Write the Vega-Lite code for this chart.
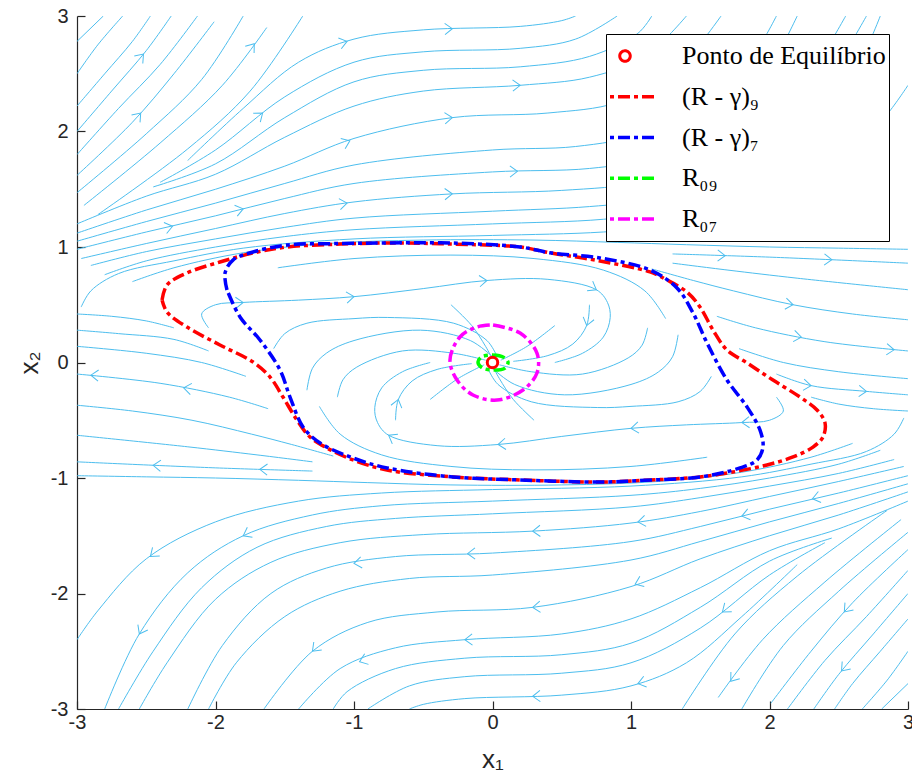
{
"$schema":"https://vega.github.io/schema/vega-lite/v6.json",
"width":831,"height":693,
"autosize":{"type":"none"},
"padding":{"left":77,"top":16,"right":4,"bottom":74},
"config":{"view":{"stroke":null},
"axis":{"grid":false,"domainColor":"#262626","tickColor":"#262626","labelColor":"#262626","titleColor":"#262626","labelFont":"Liberation Sans","labelFontSize":20,"titleFont":"Liberation Sans","titleFontSize":26,"titleFontWeight":"normal","domainWidth":1.2,"tickWidth":1.2}},
"datasets":{
"stream":[
{"s":"U1","x":-3,"y":2.78},{"s":"U1","x":-2.81,"y":3},
{"s":"U2","x":-3,"y":2.5},{"s":"U2","x":-2.85,"y":2.75},{"s":"U2","x":-2.67,"y":3},
{"s":"U3","x":-3,"y":2.22},{"s":"U3","x":-2.8,"y":2.5},{"s":"U3","x":-2.6,"y":2.78},{"s":"U3","x":-2.47,"y":3},
{"s":"U4","x":-3,"y":2.0},{"s":"U4","x":-2.75,"y":2.35},{"s":"U4","x":-2.5,"y":2.7},{"s":"U4","x":-2.32,"y":3},
{"s":"U5","x":-3,"y":1.8},{"s":"U5","x":-2.7,"y":2.2},{"s":"U5","x":-2.4,"y":2.58},{"s":"U5","x":-2.13,"y":3},
{"s":"U6","x":-3,"y":1.62},{"s":"U6","x":-2.6,"y":2.08},{"s":"U6","x":-2.3,"y":2.5},{"s":"U6","x":-2.01,"y":2.95},
{"s":"U7","x":-3,"y":1.47},{"s":"U7","x":-2.5,"y":1.98},{"s":"U7","x":-2.1,"y":2.45},{"s":"U7","x":-1.8,"y":3},
{"s":"U8","x":-2.95,"y":1.36},{"s":"U8","x":-2.4,"y":1.9},{"s":"U8","x":-1.95,"y":2.4},{"s":"U8","x":-1.63,"y":2.9},
{"s":"U9","x":-2.85,"y":1.28},{"s":"U9","x":-2.2,"y":1.85},{"s":"U9","x":-1.75,"y":2.35},{"s":"U9","x":-1.37,"y":3},
{"s":"mU1","x":3,"y":-2.78},{"s":"mU1","x":2.81,"y":-3},
{"s":"mU2","x":3,"y":-2.5},{"s":"mU2","x":2.85,"y":-2.75},{"s":"mU2","x":2.67,"y":-3},
{"s":"mU3","x":3,"y":-2.22},{"s":"mU3","x":2.8,"y":-2.5},{"s":"mU3","x":2.6,"y":-2.78},{"s":"mU3","x":2.47,"y":-3},
{"s":"mU4","x":3,"y":-2.0},{"s":"mU4","x":2.75,"y":-2.35},{"s":"mU4","x":2.5,"y":-2.7},{"s":"mU4","x":2.32,"y":-3},
{"s":"mU5","x":3,"y":-1.8},{"s":"mU5","x":2.7,"y":-2.2},{"s":"mU5","x":2.4,"y":-2.58},{"s":"mU5","x":2.13,"y":-3},
{"s":"mU6","x":3,"y":-1.62},{"s":"mU6","x":2.6,"y":-2.08},{"s":"mU6","x":2.3,"y":-2.5},{"s":"mU6","x":2.01,"y":-2.95},
{"s":"mU7","x":3,"y":-1.47},{"s":"mU7","x":2.5,"y":-1.98},{"s":"mU7","x":2.1,"y":-2.45},{"s":"mU7","x":1.8,"y":-3},
{"s":"mU8","x":2.95,"y":-1.36},{"s":"mU8","x":2.4,"y":-1.9},{"s":"mU8","x":1.95,"y":-2.4},{"s":"mU8","x":1.63,"y":-2.9},
{"s":"mU9","x":2.85,"y":-1.28},{"s":"mU9","x":2.2,"y":-1.85},{"s":"mU9","x":1.75,"y":-2.35},{"s":"mU9","x":1.37,"y":-3},
{"s":"T1","x":-2.6,"y":0.7},{"s":"T1","x":-2.3,"y":0.82},{"s":"T1","x":-1.8,"y":0.95},{"s":"T1","x":-1.2,"y":1.03},{"s":"T1","x":-0.5,"y":1.06},{"s":"T1","x":0.3,"y":1.06},{"s":"T1","x":0.9,"y":1.04},{"s":"T1","x":1.4,"y":1.02},{"s":"T1","x":2.0,"y":1.0},{"s":"T1","x":2.5,"y":0.99},{"s":"T1","x":3.0,"y":0.98},
{"s":"T2","x":-2.97,"y":0.48},{"s":"T2","x":-2.9,"y":0.62},{"s":"T2","x":-2.7,"y":0.77},{"s":"T2","x":-2.3,"y":0.88},{"s":"T2","x":-1.8,"y":0.99},{"s":"T2","x":-1.0,"y":1.07},{"s":"T2","x":0.0,"y":1.1},{"s":"T2","x":0.8,"y":1.13},{"s":"T2","x":1.4,"y":1.2},{"s":"T2","x":2.0,"y":1.38},{"s":"T2","x":2.5,"y":1.7},{"s":"T2","x":2.85,"y":2.15},{"s":"T2","x":3.0,"y":2.4},
{"s":"T3","x":-2.8,"y":0.76},{"s":"T3","x":-2.5,"y":0.88},{"s":"T3","x":-2.0,"y":1.0},{"s":"T3","x":-1.5,"y":1.09},{"s":"T3","x":-1.0,"y":1.15},{"s":"T3","x":0.0,"y":1.2},{"s":"T3","x":0.8,"y":1.24},{"s":"T3","x":1.3,"y":1.32},{"s":"T3","x":1.8,"y":1.5},{"s":"T3","x":2.2,"y":1.82},{"s":"T3","x":2.55,"y":2.35},{"s":"T3","x":2.8,"y":3.0},
{"s":"T4","x":-2.9,"y":0.84},{"s":"T4","x":-2.5,"y":0.96},{"s":"T4","x":-2.0,"y":1.07},{"s":"T4","x":-1.5,"y":1.17},{"s":"T4","x":-1.0,"y":1.25},{"s":"T4","x":0.0,"y":1.31},{"s":"T4","x":0.7,"y":1.35},{"s":"T4","x":1.2,"y":1.42},{"s":"T4","x":1.7,"y":1.6},{"s":"T4","x":2.1,"y":1.95},{"s":"T4","x":2.45,"y":2.5},{"s":"T4","x":2.7,"y":3.0},
{"s":"T5","x":-2.97,"y":0.9},{"s":"T5","x":-2.5,"y":1.03},{"s":"T5","x":-2.0,"y":1.16},{"s":"T5","x":-1.5,"y":1.29},{"s":"T5","x":-1.0,"y":1.39},{"s":"T5","x":-0.29,"y":1.46},{"s":"T5","x":0.5,"y":1.49},{"s":"T5","x":1.1,"y":1.56},{"s":"T5","x":1.6,"y":1.73},{"s":"T5","x":2.0,"y":2.05},{"s":"T5","x":2.35,"y":2.6},{"s":"T5","x":2.55,"y":3.0},
{"s":"T6","x":-3.0,"y":0.98},{"s":"T6","x":-2.5,"y":1.13},{"s":"T6","x":-2.0,"y":1.27},{"s":"T6","x":-1.5,"y":1.42},{"s":"T6","x":-1.0,"y":1.55},{"s":"T6","x":0.0,"y":1.65},{"s":"T6","x":0.7,"y":1.68},{"s":"T6","x":1.2,"y":1.78},{"s":"T6","x":1.6,"y":2.0},{"s":"T6","x":1.95,"y":2.45},{"s":"T6","x":2.2,"y":3.0},
{"s":"T7","x":-3.0,"y":1.05},{"s":"T7","x":-2.5,"y":1.22},{"s":"T7","x":-2.0,"y":1.38},{"s":"T7","x":-1.5,"y":1.55},{"s":"T7","x":-1.0,"y":1.71},{"s":"T7","x":0.0,"y":1.84},{"s":"T7","x":0.6,"y":1.87},{"s":"T7","x":1.1,"y":1.98},{"s":"T7","x":1.5,"y":2.2},{"s":"T7","x":1.85,"y":2.6},{"s":"T7","x":2.05,"y":3.0},
{"s":"T8","x":-3.0,"y":1.12},{"s":"T8","x":-2.5,"y":1.32},{"s":"T8","x":-2.0,"y":1.5},{"s":"T8","x":-1.5,"y":1.7},{"s":"T8","x":-1.0,"y":1.94},{"s":"T8","x":-0.29,"y":2.12},{"s":"T8","x":0.4,"y":2.16},{"s":"T8","x":0.9,"y":2.25},{"s":"T8","x":1.3,"y":2.5},{"s":"T8","x":1.65,"y":3.0},
{"s":"T9","x":-3.0,"y":1.2},{"s":"T9","x":-2.5,"y":1.44},{"s":"T9","x":-2.0,"y":1.63},{"s":"T9","x":-1.5,"y":1.95},{"s":"T9","x":-1.0,"y":2.22},{"s":"T9","x":-0.5,"y":2.35},{"s":"T9","x":0.2,"y":2.4},{"s":"T9","x":0.7,"y":2.47},{"s":"T9","x":1.1,"y":2.65},{"s":"T9","x":1.4,"y":3.0},
{"s":"T10","x":-2.45,"y":1.52},{"s":"T10","x":-2.0,"y":1.72},{"s":"T10","x":-1.5,"y":2.12},{"s":"T10","x":-1.0,"y":2.43},{"s":"T10","x":-0.5,"y":2.53},{"s":"T10","x":0.2,"y":2.56},{"s":"T10","x":0.7,"y":2.65},{"s":"T10","x":1.05,"y":2.85},{"s":"T10","x":1.15,"y":3.0},
{"s":"T11","x":-2.4,"y":1.56},{"s":"T11","x":-2.0,"y":1.84},{"s":"T11","x":-1.5,"y":2.3},{"s":"T11","x":-1.0,"y":2.6},{"s":"T11","x":-0.5,"y":2.69},{"s":"T11","x":0.2,"y":2.72},{"s":"T11","x":0.6,"y":2.8},{"s":"T11","x":0.9,"y":3.0},
{"s":"T12","x":-2.2,"y":1.75},{"s":"T12","x":-1.8,"y":2.2},{"s":"T12","x":-1.4,"y":2.6},{"s":"T12","x":-1.0,"y":2.8},{"s":"T12","x":-0.5,"y":2.88},{"s":"T12","x":0.2,"y":2.91},{"s":"T12","x":0.5,"y":2.96},{"s":"T12","x":0.6,"y":3.0},
{"s":"mT1","x":2.6,"y":-0.7},{"s":"mT1","x":2.3,"y":-0.82},{"s":"mT1","x":1.8,"y":-0.95},{"s":"mT1","x":1.2,"y":-1.03},{"s":"mT1","x":0.5,"y":-1.06},{"s":"mT1","x":-0.3,"y":-1.06},{"s":"mT1","x":-0.9,"y":-1.04},{"s":"mT1","x":-1.4,"y":-1.02},{"s":"mT1","x":-2.0,"y":-1.0},{"s":"mT1","x":-2.5,"y":-0.99},{"s":"mT1","x":-3.0,"y":-0.98},
{"s":"mT2","x":2.97,"y":-0.48},{"s":"mT2","x":2.9,"y":-0.62},{"s":"mT2","x":2.7,"y":-0.77},{"s":"mT2","x":2.3,"y":-0.88},{"s":"mT2","x":1.8,"y":-0.99},{"s":"mT2","x":1.0,"y":-1.07},{"s":"mT2","x":0.0,"y":-1.1},{"s":"mT2","x":-0.8,"y":-1.13},{"s":"mT2","x":-1.4,"y":-1.2},{"s":"mT2","x":-2.0,"y":-1.38},{"s":"mT2","x":-2.5,"y":-1.7},{"s":"mT2","x":-2.85,"y":-2.15},{"s":"mT2","x":-3.0,"y":-2.4},
{"s":"mT3","x":2.8,"y":-0.76},{"s":"mT3","x":2.5,"y":-0.88},{"s":"mT3","x":2.0,"y":-1.0},{"s":"mT3","x":1.5,"y":-1.09},{"s":"mT3","x":1.0,"y":-1.15},{"s":"mT3","x":0.0,"y":-1.2},{"s":"mT3","x":-0.8,"y":-1.24},{"s":"mT3","x":-1.3,"y":-1.32},{"s":"mT3","x":-1.8,"y":-1.5},{"s":"mT3","x":-2.2,"y":-1.82},{"s":"mT3","x":-2.55,"y":-2.35},{"s":"mT3","x":-2.8,"y":-3.0},
{"s":"mT4","x":2.9,"y":-0.84},{"s":"mT4","x":2.5,"y":-0.96},{"s":"mT4","x":2.0,"y":-1.07},{"s":"mT4","x":1.5,"y":-1.17},{"s":"mT4","x":1.0,"y":-1.25},{"s":"mT4","x":0.0,"y":-1.31},{"s":"mT4","x":-0.7,"y":-1.35},{"s":"mT4","x":-1.2,"y":-1.42},{"s":"mT4","x":-1.7,"y":-1.6},{"s":"mT4","x":-2.1,"y":-1.95},{"s":"mT4","x":-2.45,"y":-2.5},{"s":"mT4","x":-2.7,"y":-3.0},
{"s":"mT5","x":2.97,"y":-0.9},{"s":"mT5","x":2.5,"y":-1.03},{"s":"mT5","x":2.0,"y":-1.16},{"s":"mT5","x":1.5,"y":-1.29},{"s":"mT5","x":1.0,"y":-1.39},{"s":"mT5","x":0.29,"y":-1.46},{"s":"mT5","x":-0.5,"y":-1.49},{"s":"mT5","x":-1.1,"y":-1.56},{"s":"mT5","x":-1.6,"y":-1.73},{"s":"mT5","x":-2.0,"y":-2.05},{"s":"mT5","x":-2.35,"y":-2.6},{"s":"mT5","x":-2.55,"y":-3.0},
{"s":"mT6","x":3.0,"y":-0.98},{"s":"mT6","x":2.5,"y":-1.13},{"s":"mT6","x":2.0,"y":-1.27},{"s":"mT6","x":1.5,"y":-1.42},{"s":"mT6","x":1.0,"y":-1.55},{"s":"mT6","x":0.0,"y":-1.65},{"s":"mT6","x":-0.7,"y":-1.68},{"s":"mT6","x":-1.2,"y":-1.78},{"s":"mT6","x":-1.6,"y":-2.0},{"s":"mT6","x":-1.95,"y":-2.45},{"s":"mT6","x":-2.2,"y":-3.0},
{"s":"mT7","x":3.0,"y":-1.05},{"s":"mT7","x":2.5,"y":-1.22},{"s":"mT7","x":2.0,"y":-1.38},{"s":"mT7","x":1.5,"y":-1.55},{"s":"mT7","x":1.0,"y":-1.71},{"s":"mT7","x":0.0,"y":-1.84},{"s":"mT7","x":-0.6,"y":-1.87},{"s":"mT7","x":-1.1,"y":-1.98},{"s":"mT7","x":-1.5,"y":-2.2},{"s":"mT7","x":-1.85,"y":-2.6},{"s":"mT7","x":-2.05,"y":-3.0},
{"s":"mT8","x":3.0,"y":-1.12},{"s":"mT8","x":2.5,"y":-1.32},{"s":"mT8","x":2.0,"y":-1.5},{"s":"mT8","x":1.5,"y":-1.7},{"s":"mT8","x":1.0,"y":-1.94},{"s":"mT8","x":0.29,"y":-2.12},{"s":"mT8","x":-0.4,"y":-2.16},{"s":"mT8","x":-0.9,"y":-2.25},{"s":"mT8","x":-1.3,"y":-2.5},{"s":"mT8","x":-1.65,"y":-3.0},
{"s":"mT9","x":3.0,"y":-1.2},{"s":"mT9","x":2.5,"y":-1.44},{"s":"mT9","x":2.0,"y":-1.63},{"s":"mT9","x":1.5,"y":-1.95},{"s":"mT9","x":1.0,"y":-2.22},{"s":"mT9","x":0.5,"y":-2.35},{"s":"mT9","x":-0.2,"y":-2.4},{"s":"mT9","x":-0.7,"y":-2.47},{"s":"mT9","x":-1.1,"y":-2.65},{"s":"mT9","x":-1.4,"y":-3.0},
{"s":"mT10","x":2.45,"y":-1.52},{"s":"mT10","x":2.0,"y":-1.72},{"s":"mT10","x":1.5,"y":-2.12},{"s":"mT10","x":1.0,"y":-2.43},{"s":"mT10","x":0.5,"y":-2.53},{"s":"mT10","x":-0.2,"y":-2.56},{"s":"mT10","x":-0.7,"y":-2.65},{"s":"mT10","x":-1.05,"y":-2.85},{"s":"mT10","x":-1.15,"y":-3.0},
{"s":"mT11","x":2.4,"y":-1.56},{"s":"mT11","x":2.0,"y":-1.84},{"s":"mT11","x":1.5,"y":-2.3},{"s":"mT11","x":1.0,"y":-2.6},{"s":"mT11","x":0.5,"y":-2.69},{"s":"mT11","x":-0.2,"y":-2.72},{"s":"mT11","x":-0.6,"y":-2.8},{"s":"mT11","x":-0.9,"y":-3.0},
{"s":"mT12","x":2.2,"y":-1.75},{"s":"mT12","x":1.8,"y":-2.2},{"s":"mT12","x":1.4,"y":-2.6},{"s":"mT12","x":1.0,"y":-2.8},{"s":"mT12","x":0.5,"y":-2.88},{"s":"mT12","x":-0.2,"y":-2.91},{"s":"mT12","x":-0.5,"y":-2.96},{"s":"mT12","x":-0.6,"y":-3.0},
{"s":"Rb","x":1.3,"y":0.94},{"s":"Rb","x":2.05,"y":0.91},{"s":"Rb","x":3.0,"y":0.86},
{"s":"Rc","x":1.3,"y":0.86},{"s":"Rc","x":1.7,"y":0.8},{"s":"Rc","x":2.2,"y":0.73},{"s":"Rc","x":3.0,"y":0.63},
{"s":"Rd","x":1.15,"y":0.81},{"s":"Rd","x":1.45,"y":0.71},{"s":"Rd","x":1.74,"y":0.62},{"s":"Rd","x":2.17,"y":0.5},{"s":"Rd","x":2.6,"y":0.42},{"s":"Rd","x":3.0,"y":0.37},
{"s":"Rf","x":1.62,"y":0.4},{"s":"Rf","x":1.9,"y":0.3},{"s":"Rf","x":2.4,"y":0.18},{"s":"Rf","x":3.0,"y":0.1},
{"s":"Rg","x":1.78,"y":0.12},{"s":"Rg","x":2.1,"y":0.0},{"s":"Rg","x":2.5,"y":-0.08},{"s":"Rg","x":3.0,"y":-0.14},
{"s":"Re","x":2.05,"y":-0.1},{"s":"Re","x":2.3,"y":-0.2},{"s":"Re","x":2.7,"y":-0.25},{"s":"Re","x":3.0,"y":-0.28},
{"s":"Rh","x":2.3,"y":-0.3},{"s":"Rh","x":2.5,"y":-0.36},{"s":"Rh","x":2.75,"y":-0.4},{"s":"Rh","x":3.0,"y":-0.42},
{"s":"mRb","x":-1.3,"y":-0.94},{"s":"mRb","x":-2.05,"y":-0.91},{"s":"mRb","x":-3.0,"y":-0.86},
{"s":"mRc","x":-1.3,"y":-0.86},{"s":"mRc","x":-1.7,"y":-0.8},{"s":"mRc","x":-2.2,"y":-0.73},{"s":"mRc","x":-3.0,"y":-0.63},
{"s":"mRd","x":-1.15,"y":-0.81},{"s":"mRd","x":-1.45,"y":-0.71},{"s":"mRd","x":-1.74,"y":-0.62},{"s":"mRd","x":-2.17,"y":-0.5},{"s":"mRd","x":-2.6,"y":-0.42},{"s":"mRd","x":-3.0,"y":-0.37},
{"s":"mRf","x":-1.62,"y":-0.4},{"s":"mRf","x":-1.9,"y":-0.3},{"s":"mRf","x":-2.4,"y":-0.18},{"s":"mRf","x":-3.0,"y":-0.1},
{"s":"mRg","x":-1.78,"y":-0.12},{"s":"mRg","x":-2.1,"y":0.0},{"s":"mRg","x":-2.5,"y":0.08},{"s":"mRg","x":-3.0,"y":0.14},
{"s":"mRe","x":-2.05,"y":0.1},{"s":"mRe","x":-2.3,"y":0.2},{"s":"mRe","x":-2.7,"y":0.25},{"s":"mRe","x":-3.0,"y":0.28},
{"s":"mRh","x":-2.3,"y":0.3},{"s":"mRh","x":-2.5,"y":0.36},{"s":"mRh","x":-2.75,"y":0.4},{"s":"mRh","x":-3.0,"y":0.42},
{"s":"IL0","x":-1.55,"y":0.82},{"s":"IL0","x":-1.0,"y":0.9},{"s":"IL0","x":-0.3,"y":0.93},{"s":"IL0","x":0.3,"y":0.9},{"s":"IL0","x":0.8,"y":0.8},{"s":"IL0","x":1.1,"y":0.62},{"s":"IL0","x":1.25,"y":0.38},
{"s":"IL1","x":-2.05,"y":0.3},{"s":"IL1","x":-2.1,"y":0.42},{"s":"IL1","x":-2.0,"y":0.5},{"s":"IL1","x":-1.8,"y":0.52},{"s":"IL1","x":-1.4,"y":0.54},{"s":"IL1","x":-1.0,"y":0.57},{"s":"IL1","x":-0.5,"y":0.64},{"s":"IL1","x":-0.04,"y":0.71},{"s":"IL1","x":0.4,"y":0.72},{"s":"IL1","x":0.75,"y":0.63},{"s":"IL1","x":0.83,"y":0.52},{"s":"IL1","x":0.85,"y":0.39},{"s":"IL1","x":0.8,"y":0.22},{"s":"IL1","x":0.65,"y":0.08},{"s":"IL1","x":0.45,"y":0.0},
{"s":"IL2","x":-1.58,"y":0.12},{"s":"IL2","x":-1.5,"y":0.25},{"s":"IL2","x":-1.34,"y":0.34},{"s":"IL2","x":-1.0,"y":0.38},{"s":"IL2","x":-0.76,"y":0.39},{"s":"IL2","x":-0.28,"y":0.34},{"s":"IL2","x":-0.04,"y":0.19},{"s":"IL2","x":0.03,"y":0.06},
{"s":"IL3","x":-1.34,"y":-0.24},{"s":"IL3","x":-1.3,"y":-0.05},{"s":"IL3","x":-1.2,"y":0.08},{"s":"IL3","x":-1.0,"y":0.19},{"s":"IL3","x":-0.52,"y":0.28},{"s":"IL3","x":-0.16,"y":0.19},{"s":"IL3","x":0.0,"y":0.05},
{"s":"IL4","x":-1.12,"y":-0.3},{"s":"IL4","x":-1.08,"y":-0.15},{"s":"IL4","x":-0.98,"y":-0.04},{"s":"IL4","x":-0.65,"y":0.1},{"s":"IL4","x":-0.28,"y":0.08},{"s":"IL4","x":-0.05,"y":0.02},
{"s":"IL5","x":-0.7,"y":-0.5},{"s":"IL5","x":-0.68,"y":-0.32},{"s":"IL5","x":-0.58,"y":-0.16},{"s":"IL5","x":-0.4,"y":-0.06},{"s":"IL5","x":-0.15,"y":-0.01},
{"s":"IL6","x":-0.45,"y":-0.32},{"s":"IL6","x":-0.25,"y":-0.14},{"s":"IL6","x":-0.06,"y":-0.02},
{"s":"N1","x":-0.3,"y":0.5},{"s":"N1","x":-0.15,"y":0.32},{"s":"N1","x":-0.05,"y":0.14},{"s":"N1","x":0.0,"y":0.03},
{"s":"mIL0","x":1.55,"y":-0.82},{"s":"mIL0","x":1.0,"y":-0.9},{"s":"mIL0","x":0.3,"y":-0.93},{"s":"mIL0","x":-0.3,"y":-0.9},{"s":"mIL0","x":-0.8,"y":-0.8},{"s":"mIL0","x":-1.1,"y":-0.62},{"s":"mIL0","x":-1.25,"y":-0.38},
{"s":"mIL1","x":2.05,"y":-0.3},{"s":"mIL1","x":2.1,"y":-0.42},{"s":"mIL1","x":2.0,"y":-0.5},{"s":"mIL1","x":1.8,"y":-0.52},{"s":"mIL1","x":1.4,"y":-0.54},{"s":"mIL1","x":1.0,"y":-0.57},{"s":"mIL1","x":0.5,"y":-0.64},{"s":"mIL1","x":0.04,"y":-0.71},{"s":"mIL1","x":-0.4,"y":-0.72},{"s":"mIL1","x":-0.75,"y":-0.63},{"s":"mIL1","x":-0.83,"y":-0.52},{"s":"mIL1","x":-0.85,"y":-0.39},{"s":"mIL1","x":-0.8,"y":-0.22},{"s":"mIL1","x":-0.65,"y":-0.08},{"s":"mIL1","x":-0.45,"y":0.0},
{"s":"mIL2","x":1.58,"y":-0.12},{"s":"mIL2","x":1.5,"y":-0.25},{"s":"mIL2","x":1.34,"y":-0.34},{"s":"mIL2","x":1.0,"y":-0.38},{"s":"mIL2","x":0.76,"y":-0.39},{"s":"mIL2","x":0.28,"y":-0.34},{"s":"mIL2","x":0.04,"y":-0.19},{"s":"mIL2","x":-0.03,"y":-0.06},
{"s":"mIL3","x":1.34,"y":0.24},{"s":"mIL3","x":1.3,"y":0.05},{"s":"mIL3","x":1.2,"y":-0.08},{"s":"mIL3","x":1.0,"y":-0.19},{"s":"mIL3","x":0.52,"y":-0.28},{"s":"mIL3","x":0.16,"y":-0.19},{"s":"mIL3","x":0.0,"y":-0.05},
{"s":"mIL4","x":1.12,"y":0.3},{"s":"mIL4","x":1.08,"y":0.15},{"s":"mIL4","x":0.98,"y":0.04},{"s":"mIL4","x":0.65,"y":-0.1},{"s":"mIL4","x":0.28,"y":-0.08},{"s":"mIL4","x":0.05,"y":-0.02},
{"s":"mIL5","x":0.7,"y":0.5},{"s":"mIL5","x":0.68,"y":0.32},{"s":"mIL5","x":0.58,"y":0.16},{"s":"mIL5","x":0.4,"y":0.06},{"s":"mIL5","x":0.15,"y":0.01},
{"s":"mIL6","x":0.45,"y":0.32},{"s":"mIL6","x":0.25,"y":0.14},{"s":"mIL6","x":0.06,"y":0.02},
{"s":"mN1","x":0.3,"y":-0.5},{"s":"mN1","x":0.15,"y":-0.32},{"s":"mN1","x":0.05,"y":-0.14},{"s":"mN1","x":0.0,"y":-0.03}
],
"arrows":[
{"x":-2.52,"y":2.67,"a":-49},{"x":-1.72,"y":2.76,"a":-52},{"x":-1.05,"y":2.78,"a":-15},{"x":-0.29,"y":2.89,"a":-2},
{"x":-2.54,"y":2.16,"a":-49},{"x":-1.66,"y":2.16,"a":-39},{"x":-1.03,"y":1.92,"a":-23},{"x":-0.29,"y":2.12,"a":-4},
{"x":-2.31,"y":1.18,"a":-14},{"x":-1.8,"y":1.33,"a":-14},{"x":-1.05,"y":1.38,"a":-8},{"x":-0.29,"y":1.46,"a":-2},
{"x":2.47,"y":1.68,"a":-40},{"x":2.55,"y":2.35,"a":-62},{"x":1.8,"y":1.5,"a":-27},{"x":1.0,"y":1.74,"a":-8},{"x":0.18,"y":1.655,"a":-1},{"x":1.3,"y":2.5,"a":-45},{"x":0.96,"y":2.59,"a":-20},{"x":0.2,"y":2.4,"a":-2},
{"x":-1.8,"y":0.52,"a":-3},{"x":-1.0,"y":0.57,"a":-6},{"x":-0.04,"y":0.71,"a":-5},{"x":0.75,"y":0.63,"a":30},{"x":-0.68,"y":-0.32,"a":-75},
{"x":-2.23,"y":-0.22,"a":188},{"x":-1.68,"y":-0.925,"a":182},{"x":-2.45,"y":-0.89,"a":183},{"x":-2.9,"y":-0.11,"a":183},
{"x":2.17,"y":0.5,"a":8},{"x":2.3,"y":-0.2,"a":6},{"x":2.7,"y":-0.25,"a":3},{"x":2.23,"y":0.22,"a":8},{"x":1.68,"y":0.925,"a":1},{"x":2.45,"y":0.89,"a":2},{"x":2.9,"y":0.11,"a":4},
{"x":2.52,"y":-2.67,"a":131},{"x":1.72,"y":-2.76,"a":128},{"x":1.05,"y":-2.78,"a":165},{"x":0.29,"y":-2.89,"a":178},
{"x":2.54,"y":-2.16,"a":131},{"x":1.66,"y":-2.16,"a":141},{"x":1.03,"y":-1.92,"a":157},{"x":0.29,"y":-2.12,"a":176},
{"x":2.31,"y":-1.18,"a":166},{"x":1.8,"y":-1.33,"a":166},{"x":1.05,"y":-1.38,"a":172},{"x":0.29,"y":-1.46,"a":178},
{"x":-2.47,"y":-1.68,"a":140},{"x":-2.55,"y":-2.35,"a":118},{"x":-1.8,"y":-1.5,"a":153},{"x":-1.0,"y":-1.74,"a":172},{"x":-0.18,"y":-1.655,"a":179},{"x":-1.3,"y":-2.5,"a":135},{"x":-0.96,"y":-2.59,"a":160},{"x":-0.2,"y":-2.4,"a":178},
{"x":1.8,"y":-0.52,"a":177},{"x":1.0,"y":-0.57,"a":174},{"x":0.04,"y":-0.71,"a":175},{"x":-0.75,"y":-0.63,"a":210},{"x":0.68,"y":0.32,"a":105}
],
"curves":[
{"serie":"(R - γ)₉","x":-2.386,"y":0.541},{"serie":"(R - γ)₉","x":-2.35,"y":0.671},{"serie":"(R - γ)₉","x":-2.206,"y":0.775},{"serie":"(R - γ)₉","x":-1.968,"y":0.87},{"serie":"(R - γ)₉","x":-1.729,"y":0.948},{"serie":"(R - γ)₉","x":-1.484,"y":1.0},{"serie":"(R - γ)₉","x":-1.1,"y":1.025},{"serie":"(R - γ)₉","x":-0.762,"y":1.035},{"serie":"(R - γ)₉","x":-0.307,"y":1.026},{"serie":"(R - γ)₉","x":0.199,"y":1.0},{"serie":"(R - γ)₉","x":0.415,"y":0.95},{"serie":"(R - γ)₉","x":0.776,"y":0.879},{"serie":"(R - γ)₉","x":1.137,"y":0.784},{"serie":"(R - γ)₉","x":1.26,"y":0.714},{"serie":"(R - γ)₉","x":1.404,"y":0.61},{"serie":"(R - γ)₉","x":1.498,"y":0.481},{"serie":"(R - γ)₉","x":1.592,"y":0.281},{"serie":"(R - γ)₉","x":1.693,"y":0.108},{"serie":"(R - γ)₉","x":1.838,"y":-0.004},{"serie":"(R - γ)₉","x":2.025,"y":-0.152},{"serie":"(R - γ)₉","x":2.22,"y":-0.299},{"serie":"(R - γ)₉","x":2.343,"y":-0.411},{"serie":"(R - γ)₉","x":2.401,"y":-0.524},{"serie":"(R - γ)₉","x":2.386,"y":-0.645},{"serie":"(R - γ)₉","x":2.314,"y":-0.732},{"serie":"(R - γ)₉","x":2.17,"y":-0.818},{"serie":"(R - γ)₉","x":1.982,"y":-0.887},{"serie":"(R - γ)₉","x":1.736,"y":-0.948},{"serie":"(R - γ)₉","x":1.498,"y":-0.991},{"serie":"(R - γ)₉","x":1.1,"y":-1.02},{"serie":"(R - γ)₉","x":0.776,"y":-1.035},{"serie":"(R - γ)₉","x":0.199,"y":-1.017},{"serie":"(R - γ)₉","x":-0.285,"y":-0.991},{"serie":"(R - γ)₉","x":-0.762,"y":-0.931},{"serie":"(R - γ)₉","x":-1.007,"y":-0.844},{"serie":"(R - γ)₉","x":-1.195,"y":-0.74},{"serie":"(R - γ)₉","x":-1.318,"y":-0.645},{"serie":"(R - γ)₉","x":-1.412,"y":-0.498},{"serie":"(R - γ)₉","x":-1.513,"y":-0.299},{"serie":"(R - γ)₉","x":-1.606,"y":-0.126},{"serie":"(R - γ)₉","x":-1.729,"y":0.004},{"serie":"(R - γ)₉","x":-1.968,"y":0.152},{"serie":"(R - γ)₉","x":-2.206,"y":0.307},{"serie":"(R - γ)₉","x":-2.35,"y":0.437},{"serie":"(R - γ)₉","x":-2.386,"y":0.541},
{"serie":"(R - γ)₇","x":-1.917,"y":0.628},{"serie":"(R - γ)₇","x":-1.931,"y":0.775},{"serie":"(R - γ)₇","x":-1.874,"y":0.887},{"serie":"(R - γ)₇","x":-1.729,"y":0.957},{"serie":"(R - γ)₇","x":-1.484,"y":1.017},{"serie":"(R - γ)₇","x":-1.1,"y":1.03},{"serie":"(R - γ)₇","x":-0.762,"y":1.035},{"serie":"(R - γ)₇","x":-0.307,"y":1.035},{"serie":"(R - γ)₇","x":0.199,"y":1.0},{"serie":"(R - γ)₇","x":0.415,"y":0.95},{"serie":"(R - γ)₇","x":0.776,"y":0.905},{"serie":"(R - γ)₇","x":1.137,"y":0.801},{"serie":"(R - γ)₇","x":1.332,"y":0.645},{"serie":"(R - γ)₇","x":1.448,"y":0.429},{"serie":"(R - γ)₇","x":1.549,"y":0.169},{"serie":"(R - γ)₇","x":1.693,"y":-0.152},{"serie":"(R - γ)₇","x":1.838,"y":-0.385},{"serie":"(R - γ)₇","x":1.931,"y":-0.584},{"serie":"(R - γ)₇","x":1.953,"y":-0.732},{"serie":"(R - γ)₇","x":1.91,"y":-0.844},{"serie":"(R - γ)₇","x":1.787,"y":-0.913},{"serie":"(R - γ)₇","x":1.498,"y":-0.991},{"serie":"(R - γ)₇","x":1.1,"y":-1.02},{"serie":"(R - γ)₇","x":0.776,"y":-1.035},{"serie":"(R - γ)₇","x":0.199,"y":-1.017},{"serie":"(R - γ)₇","x":-0.285,"y":-0.991},{"serie":"(R - γ)₇","x":-0.762,"y":-0.913},{"serie":"(R - γ)₇","x":-1.007,"y":-0.827},{"serie":"(R - γ)₇","x":-1.245,"y":-0.697},{"serie":"(R - γ)₇","x":-1.368,"y":-0.558},{"serie":"(R - γ)₇","x":-1.462,"y":-0.299},{"serie":"(R - γ)₇","x":-1.534,"y":-0.065},{"serie":"(R - γ)₇","x":-1.679,"y":0.195},{"serie":"(R - γ)₇","x":-1.823,"y":0.394},{"serie":"(R - γ)₇","x":-1.917,"y":0.628},
{"serie":"R₀₉","x":0.004,"y":0.065},{"serie":"R₀₉","x":0.076,"y":0.048},{"serie":"R₀₉","x":0.112,"y":0.004},{"serie":"R₀₉","x":0.09,"y":-0.048},{"serie":"R₀₉","x":0.004,"y":-0.065},{"serie":"R₀₉","x":-0.076,"y":-0.045},{"serie":"R₀₉","x":-0.105,"y":0.004},{"serie":"R₀₉","x":-0.076,"y":0.05},{"serie":"R₀₉","x":0.004,"y":0.065},
{"serie":"R₀₇","x":0.004,"y":0.325},{"serie":"R₀₇","x":0.199,"y":0.255},{"serie":"R₀₇","x":0.321,"y":0.082},{"serie":"R₀₇","x":0.321,"y":-0.091},{"serie":"R₀₇","x":0.22,"y":-0.238},{"serie":"R₀₇","x":0.033,"y":-0.325},{"serie":"R₀₇","x":-0.141,"y":-0.281},{"serie":"R₀₇","x":-0.256,"y":-0.152},{"serie":"R₀₇","x":-0.307,"y":0.022},{"serie":"R₀₇","x":-0.235,"y":0.221},{"serie":"R₀₇","x":-0.112,"y":0.307},{"serie":"R₀₇","x":0.004,"y":0.325}
],
"eq":[{"serie":"Ponto de Equilíbrio","x":0,"y":0}]
},
"layer":[
{"data":{"name":"stream"},
 "mark":{"type":"line","color":"#4DBEEE","strokeWidth":1,"interpolate":"catmull-rom","clip":true},
 "encoding":{
  "x":{"field":"x","type":"quantitative","scale":{"domain":[-3,3],"nice":false,"zero":false},
       "axis":{"values":[-3,-2,-1,0,1,2,3],"labelExpr":"'' + datum.value","title":"x₁","tickSize":-8,"labelPadding":11,"titlePadding":14,"labelFlush":false,"labelOverlap":false}},
  "y":{"field":"y","type":"quantitative","scale":{"domain":[-3,3],"nice":false,"zero":false},
       "axis":{"values":[-3,-2,-1,0,1,2,3],"labelExpr":"'' + datum.value","title":"x₂","tickSize":-8,"labelPadding":17,"titlePadding":8,"labelFlush":false,"labelOverlap":false}},
  "detail":{"field":"s"},
  "order":{"value":null}}},
{"data":{"name":"arrows"},
 "mark":{"type":"point","shape":"M-1,-0.75L0,0L-1,0.75","filled":false,"color":"#4DBEEE","strokeWidth":1,"size":225,"opacity":1,"clip":true},
 "encoding":{"x":{"field":"x","type":"quantitative"},"y":{"field":"y","type":"quantitative"},
  "angle":{"field":"a","type":"quantitative","scale":null}}},
{"data":{"name":"curves"},
 "mark":{"type":"line","strokeWidth":3.5,"strokeDash":[12,4,4,4],"interpolate":"catmull-rom"},
 "encoding":{"x":{"field":"x","type":"quantitative"},"y":{"field":"y","type":"quantitative"},
  "color":{"field":"serie","type":"nominal",
   "scale":{"domain":["Ponto de Equilíbrio","(R - γ)₉","(R - γ)₇","R₀₉","R₀₇"],"range":["#FF0000","#FF0000","#0000FF","#00FF00","#FF00FF"]},
   "legend":{"title":null,"orient":"none","legendX":529,"legendY":18,"padding":3,"strokeColor":"#000000","fillColor":"#FFFFFF","cornerRadius":0,
     "labelFont":"Liberation Serif","labelFontSize":26,"labelColor":"#000000","labelLimit":400,
     "symbolType":"stroke","symbolSize":3844,"symbolStrokeWidth":3.5,"symbolOffset":3,"labelOffset":44,"clipHeight":38,"rowPadding":2.75,
     "encode":{"symbols":{"update":{
        "shape":{"signal":"datum.value === 'Ponto de Equilíbrio' ? 'circle' : 'stroke'"},
        "size":{"signal":"datum.value === 'Ponto de Equilíbrio' ? 110 : 3844"},
        "strokeDash":{"signal":"datum.value === 'Ponto de Equilíbrio' ? [1,0] : [12,4,4,4]"},
        "strokeWidth":{"signal":"datum.value === 'Ponto de Equilíbrio' ? 3 : 3.5"},
        "stroke":{"scale":"color","field":"value"},
        "fill":{"value":"transparent"},
        "opacity":{"value":1}}}}}},
  "order":{"value":null}}},
{"data":{"name":"eq"},
 "mark":{"type":"point","filled":false,"strokeWidth":3,"size":110,"opacity":1},
 "encoding":{"x":{"field":"x","type":"quantitative"},"y":{"field":"y","type":"quantitative"},
  "color":{"field":"serie","type":"nominal"}}}
]
}
